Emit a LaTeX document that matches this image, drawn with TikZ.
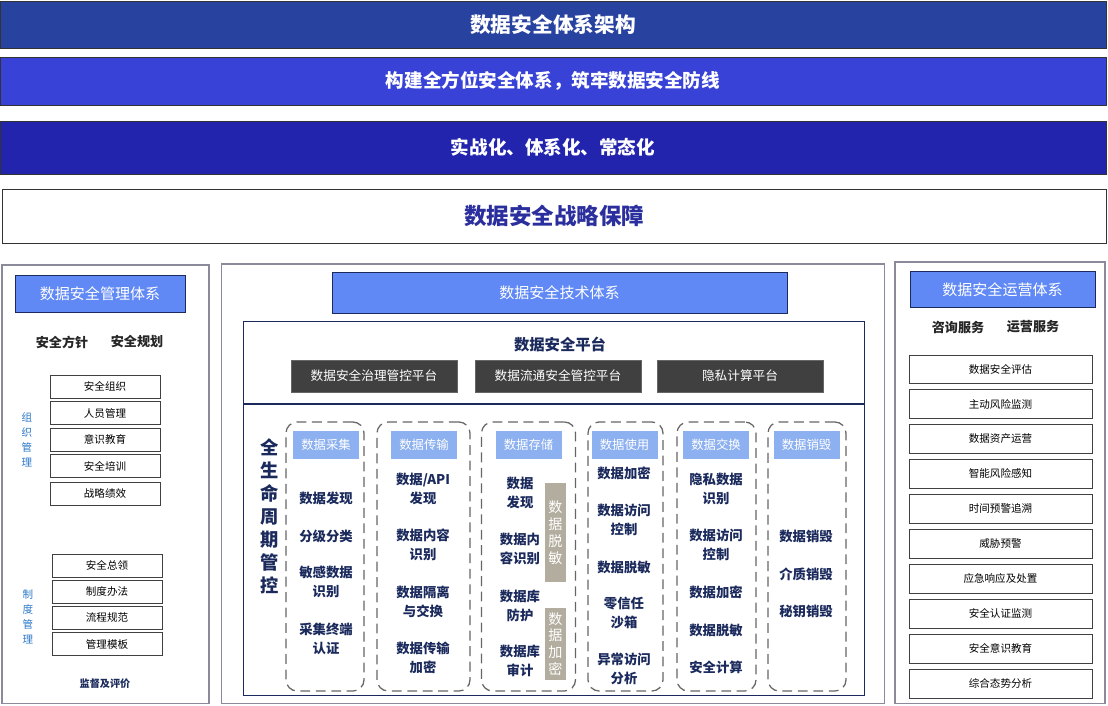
\documentclass[tikz,border=0pt]{standalone}
\usepackage{fontspec}
\setmainfont{Noto Sans CJK SC}
\usetikzlibrary{positioning}

\definecolor{bandA}{HTML}{2842A0}
\definecolor{bandB}{HTML}{3842D6}
\definecolor{bandC}{HTML}{2224AE}
\definecolor{stratblue}{HTML}{2B2F9E}
\definecolor{hdrblue}{HTML}{6089F5}
\definecolor{lightblue}{HTML}{8CB0F0}
\definecolor{navy}{HTML}{1B2A5C}
\definecolor{darkgray}{HTML}{404040}
\definecolor{bargray}{HTML}{B3AD9F}
\definecolor{sideblue}{HTML}{2A78C8}
\definecolor{panelgray}{HTML}{8A8A9A}

\begin{document}
\begin{tikzpicture}[x={(0.025cm,0cm)}, y={(0cm,-0.025cm)},
  band/.style={draw=black!80, minimum width=27.65cm, inner sep=0pt, text=white, font=\bfseries\fontsize{13.2}{16}\selectfont},
  panel/.style={draw=panelgray, thick, inner sep=0pt},
  headbox/.style={draw=navy, fill=hdrblue, text=white, inner sep=0pt, font=\fontsize{10.7}{13}\selectfont},
  subtitle/.style={inner sep=0pt, text=black!85, font=\bfseries\fontsize{9.3}{11}\selectfont},
  listbox/.style={draw=black!75, fill=white, minimum width=2.75cm, minimum height=0.575cm, inner sep=0pt, font=\fontsize{7.5}{9}\selectfont},
  sidelabel/.style={align=center, inner sep=0pt, text=sideblue, font=\fontsize{7.5}{10.7}\selectfont},
  darkbox/.style={draw=black!60, fill=darkgray, text=white, minimum width=4.15cm, minimum height=0.8cm, inner sep=0pt, font=\fontsize{9}{11}\selectfont},
  stage/.style={draw=black!60, dashed, dash pattern=on 7pt off 4pt, line width=0.9pt, rounded corners=8pt, minimum height=6.725cm, inner sep=0pt},
  stagehead/.style={fill=lightblue, text=white, minimum width=1.65cm, minimum height=0.7cm, inner sep=0pt, font=\fontsize{8.8}{10}\selectfont},
  item/.style={align=center, inner sep=0pt, text=navy, font=\bfseries\fontsize{9.5}{13.5}\selectfont},
  bar/.style={fill=bargray, text=white, minimum width=0.525cm, align=center, inner sep=0pt, font=\fontsize{10}{12}\selectfont},
  opsbox/.style={draw=black!75, fill=white, minimum width=4.575cm, minimum height=0.71cm, inner sep=0pt, font=\fontsize{7.5}{9}\selectfont}]

    \useasboundingbox (0,0) rectangle (1108,705);

    %Nodes
    \node[band, fill=bandA, minimum height=1.175cm, font=\bfseries\fontsize{14.7}{17}\selectfont](title) at (553,24.5){数据安全体系架构};
    \node[band, fill=bandB, minimum height=1.2cm](goal) at (553,81){构建全方位安全体系，筑牢数据安全防线};
    \node[band, fill=bandC, minimum height=1.325cm](mode) at (553,147.5){实战化、体系化、常态化};
    \node[band, fill=white, text=stratblue, minimum width=27.6cm, minimum height=1.35cm, font=\bfseries\fontsize{16}{19}\selectfont](strategy) at (554,216){数据安全战略保障};

    %Management
    \node[panel, minimum width=5.175cm, minimum height=10.95cm](mgmt) at (105.5,484){};
    \node[headbox, minimum width=4.25cm, minimum height=0.925cm](mgmthead) at (100,293.5){数据安全管理体系};
    \node[subtitle](policy) at (62,342){安全方针};
    \node[subtitle](plan) at (137,342){安全规划};
    \node[listbox](org1) at (105,386.5){安全组织};
    \node[listbox](org2)[below=0.075cm of org1]{人员管理};
    \node[listbox](org3)[below=0.075cm of org2]{意识教育};
    \node[listbox](org4)[below=0.075cm of org3]{安全培训};
    \node[listbox](org5)[below=0.1cm of org4]{战略绩效};
    \node[sidelabel](orglabel) at (27,440){组\\织\\管\\理};
    \node[listbox](rule1) at (107,565.5){安全总领};
    \node[listbox](rule2)[below=0.065cm of rule1]{制度办法};
    \node[listbox](rule3)[below=0.065cm of rule2]{流程规范};
    \node[listbox](rule4)[below=0.065cm of rule3]{管理模板};
    \node[sidelabel](rulelabel) at (28,617){制\\度\\管\\理};
    \node[inner sep=0pt, text=navy, font=\bfseries\fontsize{7.2}{9}\selectfont](review) at (105,684){监督及评价};

    %Technology
    \node[panel, minimum width=16.55cm, minimum height=10.975cm](tech) at (553,483.5){};
    \node[headbox, minimum width=11.375cm, minimum height=1.025cm](techhead) at (559.5,292.5){数据安全技术体系};
    \node[draw=navy, minimum width=15.525cm, minimum height=9.35cm, inner sep=0pt](platform) at (553.5,508){};
    \node[inner sep=0pt, text=navy, font=\bfseries\fontsize{10.9}{13}\selectfont](platformname) at (560,345){数据安全平台};
    \node[darkbox](gov) at (374,376){数据安全治理管控平台};
    \node[darkbox](flow) at (558,376){数据流通安全管控平台};
    \node[darkbox](privacy) at (740,376){隐私计算平台};
    \node[align=center, inner sep=0pt, text=navy, font=\bfseries\fontsize{13}{16.4}\selectfont](life) at (270,516){全\\生\\命\\周\\期\\管\\控};

    \node[stage, minimum width=1.95cm](collect) at (325,556.5){};
    \node[stage, minimum width=2.325cm](transfer) at (423.5,556.5){};
    \node[stage, minimum width=2.35cm](store) at (528.5,556.5){};
    \node[stage, minimum width=1.875cm](use) at (625.5,556.5){};
    \node[stage, minimum width=1.975cm](exchange) at (716.5,556.5){};
    \node[stage, minimum width=1.95cm](destroy) at (807,556.5){};

    \node[stagehead](collecthead) at (326,445){数据采集};
    \node[stagehead](transferhead) at (424,445){数据传输};
    \node[stagehead](storehead) at (528.5,445){数据存储};
    \node[stagehead](usehead) at (624.5,445){数据使用};
    \node[stagehead](exchangehead) at (716,445){数据交换};
    \node[stagehead](destroyhead) at (806.5,445){数据销毁};

    \node[item](collect1) at (326,498){数据发现};
    \node[item](collect2) at (326,536){分级分类};
    \node[item](collect3) at (326,582){敏感数据\\识别};
    \node[item](collect4) at (326,639){采集终端\\认证};

    \node[item](transfer1) at (423,489){数据/API\\发现};
    \node[item](transfer2) at (423,545){数据内容\\识别};
    \node[item](transfer3) at (423,601.5){数据隔离\\与交换};
    \node[item](transfer4) at (423,657.5){数据传输\\加密};

    \node[item](store1) at (520,492.5){数据\\发现};
    \node[item](store2) at (520,549){数据内\\容识别};
    \node[item](store3) at (520,605.5){数据库\\防护};
    \node[item](store4) at (520,660.5){数据库\\审计};
    \node[bar, minimum height=2.475cm](maskbar) at (555.5,532.5){数\\据\\脱\\敏};
    \node[bar, minimum height=1.8cm](cryptbar) at (555.5,644){数\\据\\加\\密};

    \node[item](use1) at (624,473){数据加密};
    \node[item](use2) at (624,520){数据访问\\控制};
    \node[item](use3) at (624,567){数据脱敏};
    \node[item](use4) at (624,613){零信任\\沙箱};
    \node[item](use5) at (624,669){异常访问\\分析};

    \node[item](exchange1) at (716,488.5){隐私数据\\识别};
    \node[item](exchange2) at (716,545){数据访问\\控制};
    \node[item](exchange3) at (716,592){数据加密};
    \node[item](exchange4) at (716,630){数据脱敏};
    \node[item](exchange5) at (716,667){安全计算};

    \node[item](destroy1) at (806,536){数据销毁};
    \node[item](destroy2) at (806,574){介质销毁};
    \node[item](destroy3) at (806,611){秘钥销毁};

    %Operations
    \node[panel, minimum width=5.25cm, minimum height=11.025cm](ops) at (1000,482.5){};
    \node[headbox, minimum width=4.625cm, minimum height=0.9cm](opshead) at (1002.5,289.5){数据安全运营体系};
    \node[subtitle](consult) at (958,327){咨询服务};
    \node[subtitle](service) at (1033,327){运营服务};
    \node[opsbox](ops1) at (1000.5,369){数据安全评估};
    \node[opsbox](ops2)[below=0.15cm of ops1]{主动风险监测};
    \node[opsbox](ops3)[below=0.15cm of ops2]{数据资产运营};
    \node[opsbox](ops4)[below=0.15cm of ops3]{智能风险感知};
    \node[opsbox](ops5)[below=0.15cm of ops4]{时间预警追溯};
    \node[opsbox](ops6)[below=0.15cm of ops5]{威胁预警};
    \node[opsbox](ops7)[below=0.15cm of ops6]{应急响应及处置};
    \node[opsbox](ops8)[below=0.15cm of ops7]{安全认证监测};
    \node[opsbox](ops9)[below=0.15cm of ops8]{安全意识教育};
    \node[opsbox](ops10)[below=0.15cm of ops9]{综合态势分析};

    %Lines
    \coordinate (divleft) at (243,404);
    \coordinate (divright) at (864,404);
    \draw[navy, line width=1.8pt] (divleft) -- (divright);

\end{tikzpicture}
\end{document}
